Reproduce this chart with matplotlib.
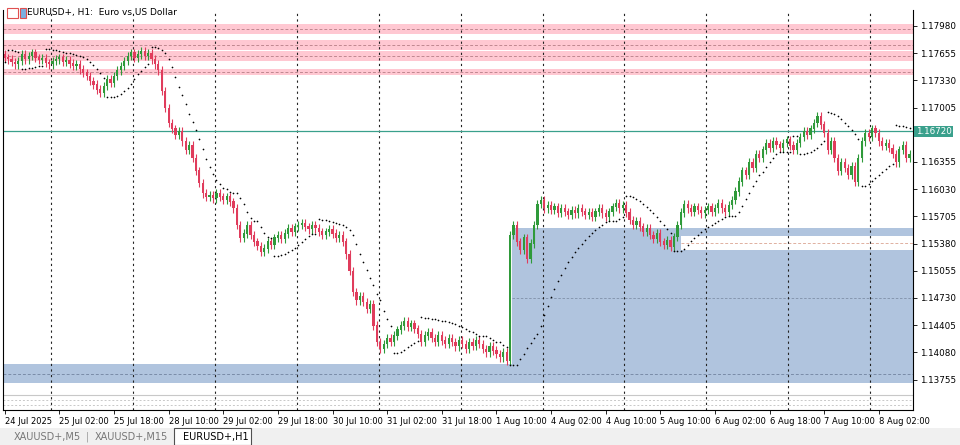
import matplotlib
matplotlib.use("Agg")
import matplotlib.pyplot as plt
from matplotlib.patches import Rectangle
import numpy as np

closes = [1.1760,1.1758,1.1755,1.1752,1.1756, 1.1764,1.1758,1.1762,1.1766,1.1760,
1.1757,1.1759,1.1754,1.1752,1.1756, 1.1758,1.1760,1.1755,1.1757,1.1753,
1.1750,1.1752,1.1746,1.1742,1.1738, 1.1732,1.1728,1.1722,1.1718,1.1726,
1.1734,1.1730,1.1738,1.1745,1.1750, 1.1756,1.1762,1.1766,1.1760,1.1764,
1.1768,1.1762,1.1765,1.1758,1.1752, 1.1745,1.1720,1.1700,1.1682,1.1675,
1.1668,1.1672,1.1660,1.1650,1.1655, 1.1640,1.1625,1.1610,1.1598,1.1594,
1.1596,1.1592,1.1598,1.1594,1.1590, 1.1594,1.1588,1.1580,1.1560,1.1545,
1.1550,1.1560,1.1548,1.1540,1.1535, 1.1528,1.1532,1.1540,1.1536,1.1545,
1.1548,1.1544,1.1550,1.1556,1.1552, 1.1558,1.1560,1.1562,1.1558,1.1555,
1.1560,1.1556,1.1552,1.1548,1.1552, 1.1555,1.1550,1.1545,1.1548,1.1540,
1.1525,1.1505,1.1480,1.1470,1.1475, 1.1468,1.1460,1.1465,1.1440,1.1420,
1.1412,1.1418,1.1425,1.1420,1.1428, 1.1435,1.1440,1.1445,1.1438,1.1442,
1.1436,1.1430,1.1420,1.1428,1.1432, 1.1425,1.1420,1.1428,1.1422,1.1418,
1.1425,1.1420,1.1415,1.1422,1.1418, 1.1412,1.1420,1.1416,1.1422,1.1418,
1.1412,1.1408,1.1415,1.1410,1.1406, 1.1402,1.1408,1.1398,1.1548,1.1560,
1.1540,1.1530,1.1545,1.1520,1.1538, 1.1560,1.1585,1.1590,1.1580,1.1584,
1.1578,1.1582,1.1575,1.1580,1.1576, 1.1572,1.1578,1.1574,1.1580,1.1576,
1.1572,1.1575,1.1570,1.1576,1.1580, 1.1574,1.1570,1.1576,1.1582,1.1586,
1.1580,1.1584,1.1575,1.1566,1.1560, 1.1565,1.1558,1.1552,1.1556,1.1548,
1.1544,1.1550,1.1540,1.1536,1.1542, 1.1534,1.1546,1.1560,1.1575,1.1585,
1.1580,1.1576,1.1582,1.1578,1.1574, 1.1578,1.1582,1.1576,1.1580,1.1586,
1.1580,1.1576,1.1584,1.1590,1.1600, 1.1612,1.1625,1.1620,1.1635,1.1628,
1.1645,1.1640,1.1650,1.1658,1.1652, 1.1660,1.1656,1.1652,1.1658,1.1662,
1.1655,1.1650,1.1658,1.1665,1.1672, 1.1668,1.1675,1.1682,1.1690,1.1680,
1.1670,1.1650,1.1660,1.1640,1.1625, 1.1635,1.1628,1.1620,1.1630,1.1612,
1.1640,1.1660,1.1670,1.1665,1.1675, 1.1670,1.1660,1.1655,1.1658,1.1652,
1.1645,1.1635,1.1650,1.1655,1.1640, 1.1645]
first_open = 1.1764
price_ticks = [1.17980,1.17655,1.17330,1.17005,1.16680,1.16355,1.16030,1.15705,
               1.15380,1.15055,1.14730,1.14405,1.14080,1.13755]
hidden_tick = 1.16680
time_labels = ["24 Jul 2025","25 Jul 02:00","25 Jul 18:00","28 Jul 10:00","29 Jul 02:00",
               "29 Jul 18:00","30 Jul 10:00","31 Jul 02:00","31 Jul 18:00","1 Aug 10:00",
               "4 Aug 02:00","4 Aug 10:00","5 Aug 10:00","6 Aug 02:00","6 Aug 18:00",
               "7 Aug 10:00","8 Aug 02:00"]
day_breaks = [14,38,62,86,110,134,158,182,206,230,254]
pink_zones = [(1.1788,1.1800),(1.1769,1.1781),(1.1756,1.1768),(1.1739,1.1747)]
blue_zone = (1.1371,1.1394)
box = (148.5, 1.1389, 1.1557)
box_gap = (198, 1.1530, 1.1547)
current_price = 1.16720

closes = np.array(closes)
n = len(closes)
opens = np.concatenate([[first_open], closes[:-1]])
highs = np.maximum(opens, closes) + 0.0005
lows = np.minimum(opens, closes) - 0.0005

def psar(h, l, step=0.02, mx=0.2):
    sar = np.zeros(len(h)); up = True; af = step; ep = h[0]; sar[0] = l[0]
    for i in range(1, len(h)):
        s = sar[i-1] + af*(ep - sar[i-1])
        if up:
            s = min(s, l[i-1], l[max(i-2,0)])
            if l[i] < s:
                up = False; s = ep; ep = l[i]; af = step
            elif h[i] > ep:
                ep = h[i]; af = min(af+step, mx)
        else:
            s = max(s, h[i-1], h[max(i-2,0)])
            if h[i] > s:
                up = True; s = ep; ep = h[i]; af = step
            elif l[i] < ep:
                ep = l[i]; af = min(af+step, mx)
        sar[i] = s
    return sar
sar = psar(highs, lows)

W, H = 960, 445
fig = plt.figure(figsize=(W/100, H/100), dpi=100)
fig.patch.set_facecolor("white")
ax = fig.add_axes([3/W, 1-410/H, 910/W, 400/H])
ax.set_xlim(-0.5, 266)
ax.set_ylim(1.13391, 1.18171)
ax.set_facecolor("white")

for lo, hi in pink_zones:
    ax.axhspan(lo, hi, color="#ffc8d2", lw=0, zorder=0)
    ax.axhline((lo+hi)/2, color="#c08890", lw=0.7, ls=(0,(3,2)), zorder=1)
ax.axhspan(*blue_zone, color="#b0c4de", lw=0, zorder=0)
ax.axhline(sum(blue_zone)/2, color="#7a8ca8", lw=0.7, ls=(0,(3,2)), zorder=1)
ax.add_patch(Rectangle((box[0], box[1]), 270-box[0], box[2]-box[1], color="#b0c4de", lw=0, zorder=0))
ax.add_patch(Rectangle((box_gap[0], box_gap[1]), 270-box_gap[0], box_gap[2]-box_gap[1], color="white", lw=0, zorder=0.5))
ax.plot([box_gap[0], 270], [sum(box_gap[1:])/2]*2, color="#e0b0a0", lw=0.7, ls=(0,(3,2)), zorder=1)
ax.plot([box[0], 270], [1.1473]*2, color="#8090a8", lw=0.6, ls=(0,(3,2)), zorder=1)
ax.axhline(1.1357, color="#c8c8c8", lw=0.8, zorder=1)
ax.axhline(1.1351, color="#c8c8c8", lw=0.7, ls=(0,(2,2)), zorder=1)
ax.axhline(1.1345, color="#c8c8c8", lw=0.7, ls=(0,(2,2)), zorder=1)

for d in day_breaks:
    ax.axvline(d-0.5, color="#222222", lw=0.8, ls=(0,(2,3)), zorder=1)

ax.axhline(current_price, color="#3aa08c", lw=0.9, zorder=2)

x = np.arange(n)
up = closes >= opens
col = np.where(up, "#2f9a3a", "#e03c5c")
ax.vlines(x, lows, highs, colors=col, lw=0.8, zorder=3)
ax.bar(x, np.abs(closes-opens)+0.00005, bottom=np.minimum(opens, closes), width=0.65,
       color=col, lw=0, zorder=4)
ax.scatter(x, sar, s=1.5, color="black", zorder=5, lw=0)

for s in ax.spines.values():
    s.set_color("#000000"); s.set_linewidth(0.8)
ax.spines["top"].set_visible(False)
ax.yaxis.tick_right()
ax.set_yticks(price_ticks)
ax.set_yticklabels(["" if abs(p-hidden_tick) < 1e-9 else f"{p:.5f}" for p in price_ticks], fontsize=6.3)
ax.set_xticks([16*k for k in range(len(time_labels))])
ax.set_xticklabels(time_labels, fontsize=6, ha="left")
ax.tick_params(length=3, width=0.6, pad=2)
ax.text(1.003, current_price, f"{current_price:.5f}", transform=ax.get_yaxis_transform(),
        fontsize=6.3, color="white", va="center", ha="left",
        bbox=dict(boxstyle="square,pad=0.15", fc="#3aa08c", ec="none"), zorder=10)

fig.text(27/W, 1-13/H, "EURUSD+, H1:  Euro vs US Dollar", fontsize=6.5, va="center")
fig.patches.append(Rectangle((7/W, 1-18/H), 11/W, 10/H, transform=fig.transFigure, fc="white", ec="#e05050", lw=0.8))
fig.patches.append(Rectangle((20/W, 1-18/H), 11/W*0.5, 10/H, transform=fig.transFigure, fc="#7ab0e0", ec="#e05050", lw=0.8))

fig.patches.append(Rectangle((0, 0), 1, 17/H, transform=fig.transFigure, fc="#f0f0f0", ec="none"))
fig.patches.append(Rectangle((174/W, 0), 77/W, 17/H, transform=fig.transFigure, fc="white", ec="#505050", lw=0.8))
fig.text(14/W, 8/H, "XAUUSD+,M5", fontsize=7, color="#777777", va="center")
fig.text(95/W, 8/H, "XAUUSD+,M15", fontsize=7, color="#777777", va="center")
fig.text(183/W, 8/H, "EURUSD+,H1", fontsize=7, color="#000000", va="center")
fig.text(86/W, 8/H, "|", fontsize=7, color="#999999", va="center")

fig.savefig("out.png", dpi=100)
